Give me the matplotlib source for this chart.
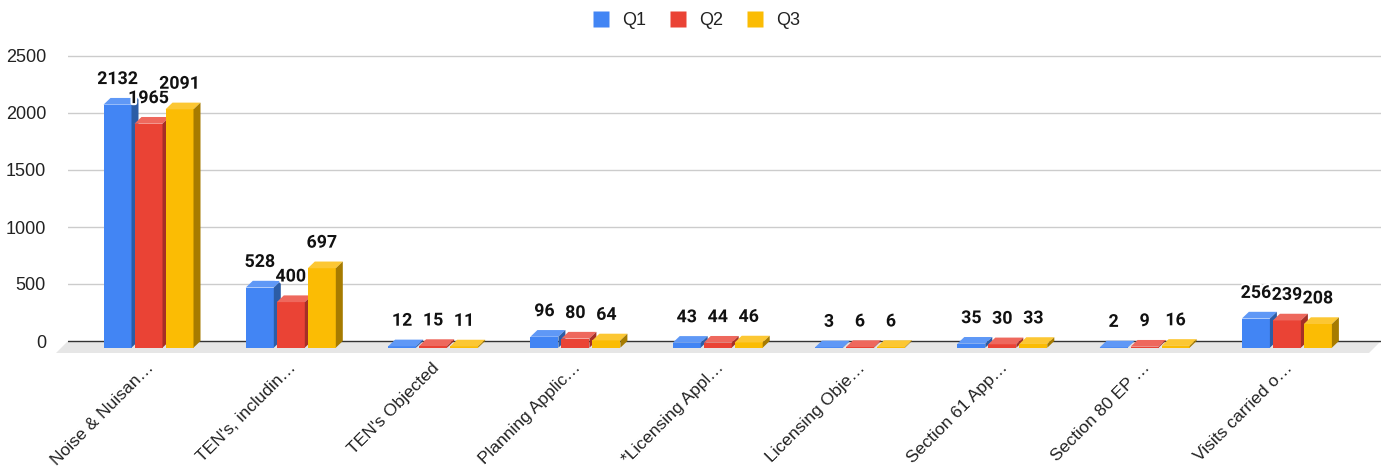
import numpy as np
import matplotlib.pyplot as plt
from matplotlib.patches import Polygon, Rectangle
from matplotlib.lines import Line2D
import matplotlib.patheffects as pe

categories = ["Noise & Nuisan\u2026", "TEN's, includin\u2026", "TEN's Objected",
              "Planning Applic\u2026", "*Licensing Appl\u2026", "Licensing Obje\u2026",
              "Section 61 App\u2026", "Section 80 EP \u2026", "Visits carried o\u2026"]
series_names = ["Q1", "Q2", "Q3"]
q1 = [2132, 528, 12, 96, 43, 3, 35, 2, 256]
q2 = [1965, 400, 15, 80, 44, 6, 30, 9, 239]
q3 = [2091, 697, 11, 64, 46, 6, 33, 16, 208]
y_ticks = [0, 500, 1000, 1500, 2000, 2500]

# front, top and side shades for each series
shades = [
    ("#4285F4", "#5f98f6", "#2c5da6"),
    ("#EA4335", "#ee685d", "#a52f26"),
    ("#FBBC04", "#fcc733", "#a67b00"),
]

plt.rcParams["font.family"] = ["Liberation Sans", "DejaVu Sans"]

W, H = 1381, 473
fig = plt.figure(figsize=(W / 100, H / 100), dpi=100)

# plot area in pixels
left, right, top, bottom = 68, 1381, 50, 360
zero_px = 341
px_per_cat = 142.3
first_center = 148.5
px_per_unit = 57 / 500

ax = fig.add_axes([left / W, (H - bottom) / H, (right - left) / W, (bottom - top) / H])
ax.set_xlim((left - first_center) / px_per_cat, (right - first_center) / px_per_cat)
ax.set_ylim(-(bottom - zero_px) / px_per_unit, (zero_px - top) / px_per_unit)

def dx(px):
    return px / px_per_cat

def dy(px):
    return px / px_per_unit

depth_x, depth_y = dx(7), dy(6.7)
bar_w = dx(28)
step = dx(31)

# gridlines behind everything
for t in y_ticks[1:]:
    ax.axhline(t, color="#cccccc", lw=1, zorder=0)

# floor slab under the bars
x_lo, x_hi = ax.get_xlim()
floor = Polygon([(x_lo, 0), (x_hi, 0), (x_hi - dx(12), -dy(12)), (x_lo - dx(12), -dy(12))],
                closed=True, facecolor="#e6e6e6", edgecolor="none", zorder=1, clip_on=False)
ax.add_patch(floor)
ax.axhline(0, color="#333333", lw=1, zorder=1.5)

all_series = [q1, q2, q3]
x = np.arange(len(categories))
for j, vals in enumerate(all_series):
    front_c, top_c, side_c = shades[j]
    for i, v in enumerate(vals):
        cx = x[i] + (j - 1) * step
        x0, x1 = cx - bar_w / 2, cx + bar_w / 2
        z = 2 + j
        ax.add_patch(Rectangle((x0, -depth_y), bar_w, v, facecolor=front_c,
                               edgecolor="none", zorder=z))
        ax.add_patch(Polygon([(x0, v - depth_y), (x1, v - depth_y),
                              (x1 + depth_x, v), (x0 + depth_x, v)],
                             closed=True, facecolor=top_c, edgecolor="none", zorder=z))
        ax.add_patch(Polygon([(x1, -depth_y), (x1 + depth_x, 0),
                              (x1 + depth_x, v), (x1, v - depth_y)],
                             closed=True, facecolor=side_c, edgecolor="none", zorder=z))

# value labels above each bar
for j, vals in enumerate(all_series):
    for i, v in enumerate(vals):
        cx = x[i] + (j - 1) * step
        ax.annotate(str(v), (cx, v), xytext=(0, 10), textcoords="offset points",
                    ha="center", va="baseline", fontsize=12.8, fontweight="bold",
                    family=["Roboto", "DejaVu Sans"], color="#111111", zorder=10,
                    path_effects=[pe.withStroke(linewidth=3, foreground="white")])

ax.set_yticks(y_ticks)
ax.set_yticklabels([str(t) for t in y_ticks])
ax.set_xticks(x - dx(2))
ax.set_xticklabels(categories, rotation=45, ha="right", va="top", rotation_mode="anchor")
ax.tick_params(axis="y", length=0, pad=15.8, labelsize=13, labelcolor="#222222")
ax.tick_params(axis="x", length=0, pad=0, labelsize=12.6, labelcolor="#222222")
for s in ax.spines.values():
    s.set_visible(False)

handles = [Line2D([], [], linestyle="none", marker="s", markersize=12.2,
                  markerfacecolor=shades[k][0], markeredgecolor="none")
           for k in range(3)]
fig.legend(handles, series_names, loc="center", bbox_to_anchor=(696 / W, 1 - 20.5 / H),
           ncol=3, frameon=False, fontsize=13, handlelength=1.0,
           handletextpad=0.65, columnspacing=1.3, labelcolor="#222222")

fig.savefig("out.png", dpi=100)
